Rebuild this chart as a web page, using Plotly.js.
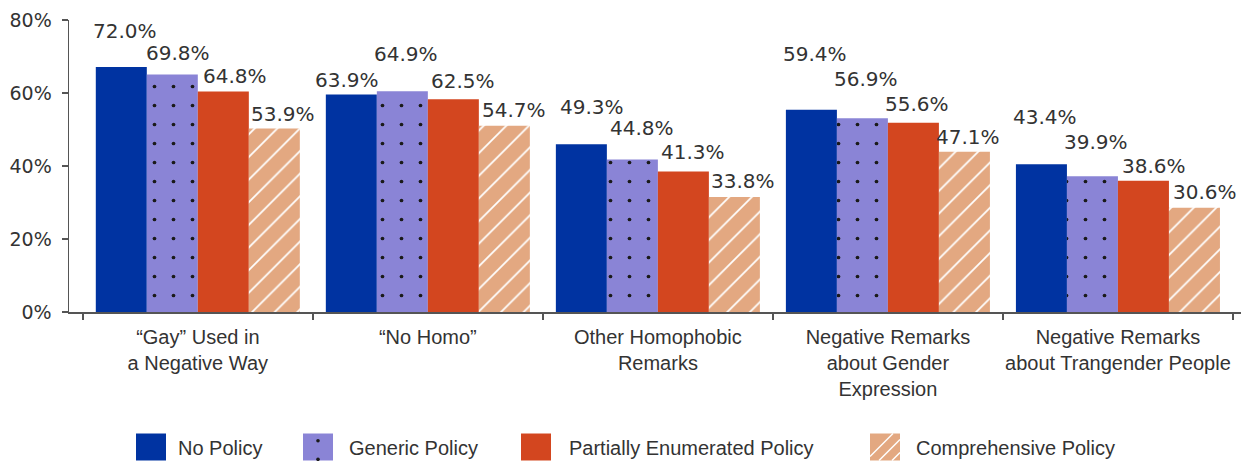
<!DOCTYPE html>
<html><head><meta charset="utf-8">
<script src="https://cdn.plot.ly/plotly-3.0.1.min.js"></script>
<style>html,body{margin:0;padding:0;background:#fff}#chart{width:1244px;height:461px}</style>
</head><body><div id="chart"></div>
<script>
// ---- data ----
const categories = ['“Gay” Used in<br>a Negative Way', '“No Homo”', 'Other Homophobic<br>Remarks', 'Negative Remarks<br>about Gender<br>Expression', 'Negative Remarks<br>about Trangender People'];
const seriesNames = ['No Policy', 'Generic Policy', 'Partially Enumerated Policy', 'Comprehensive Policy'];
const noPolicy = [72.0, 63.9, 49.3, 59.4, 43.4];
const genericPolicy = [69.8, 64.9, 44.8, 56.9, 39.9];
const partialPolicy = [64.8, 62.5, 41.3, 55.6, 38.6];
const comprehensivePolicy = [53.9, 54.7, 33.8, 47.1, 30.6];
const yTickLabels = ['0%', '20%', '40%', '60%', '80%'];

// ---- styling / layout ----
const seriesValues = [noPolicy, genericPolicy, partialPolicy, comprehensivePolicy];
const colors = ['#0033a1', '#8a84d6', '#d3461f', '#e3a881'];
const patterns = [
  null,
  {shape: '.', bgcolor: '#8a84d6', fgcolor: '#1a1a1a', size: 19, solidity: 0.03},
  null,
  {shape: '/', bgcolor: '#e3a881', fgcolor: '#ffffff', size: 16, solidity: 0.11}
];
const W = 1244, H = 461;
const M = {l: 69, r: 3, t: 20, b: 149};
const plotW = W - M.l - M.r, plotH = H - M.t - M.b;
const yAxisMax = 85.8;          // axis scale used by the reference
const bargap = 0.113;
const textColor = '#333333';
const numFont = 'DejaVu Sans';
const txtFont = 'Liberation Sans, Arial, sans-serif';

// label staggering (pixels above bar top, and horizontal nudge), per series then category
const labelLift = [
  [36, 15, 37, 56, 47],
  [21, 37, 32, 39, 34],
  [15, 18, 19, 19, 15],
  [15, 16, 16, 15, 16]
];
const labelNudge = [
  [4, -4, 11, 4, 4],
  [6, 4, 10, 4, 4],
  [12, 10, 10, 4, 11],
  [9, 10, 9, 4, 11]
];

const traces = seriesValues.map((vals, si) => {
  const marker = {color: colors[si], line: {width: 0}};
  if (patterns[si]) marker.pattern = Object.assign({fillmode: 'replace'}, patterns[si]);
  return {type: 'bar', name: seriesNames[si], x: categories, y: vals, marker: marker,
          showlegend: false, hoverinfo: 'skip'};
});

const barUnit = (1 - bargap) / seriesValues.length;
const annotations = [];
seriesValues.forEach((vals, si) => {
  vals.forEach((v, ci) => {
    annotations.push({
      xref: 'x', yref: 'y', x: ci + (si - (seriesValues.length - 1) / 2) * barUnit, y: v,
      text: v.toFixed(1) + '%', showarrow: false, yanchor: 'middle', xanchor: 'center',
      yshift: labelLift[si][ci], xshift: labelNudge[si][ci],
      font: {family: numFont, size: 20, color: textColor}
    });
  });
});

// ---- custom legend (large swatches) ----
const px2x = px => (px - M.l) / plotW;
const py2y = py => (H - M.b - py) / plotH;
const legendSwatchX = [136, 303, 521, 870];
const legendTextX = [176, 347, 567, 914];
const swW = 30, swTop = 433.5, swBot = 460.5, legendMidY = 448;
const shapes = [];
seriesNames.forEach((name, si) => {
  const x0 = legendSwatchX[si], x1 = x0 + swW;
  shapes.push({type: 'rect', xref: 'paper', yref: 'paper', x0: px2x(x0), x1: px2x(x1),
    y0: py2y(swBot), y1: py2y(swTop), fillcolor: colors[si], line: {width: 0}});
  if (patterns[si] && patterns[si].shape === '.') {
    const cx = (x0 + x1) / 2;
    [440.7, 459.3].forEach(cy => {
      const r = 1.8;
      shapes.push({type: 'circle', xref: 'paper', yref: 'paper', x0: px2x(cx - r), x1: px2x(cx + r),
        y0: py2y(cy + r), y1: py2y(cy - r), fillcolor: '#1a1a1a', line: {width: 0}});
    });
  }
  if (patterns[si] && patterns[si].shape === '/') {
    [866, 879, 892, 905].forEach(xb => {
      const k = xb + swBot;
      const xs = Math.max(x0, k - swBot), xe = Math.min(x1, k - swTop);
      if (xe > xs) shapes.push({type: 'line', xref: 'paper', yref: 'paper',
        x0: px2x(xs), y0: py2y(k - xs), x1: px2x(xe), y1: py2y(k - xe),
        line: {color: '#ffffff', width: 1.5}});
    });
  }
  annotations.push({xref: 'paper', yref: 'paper', x: px2x(legendTextX[si]), y: py2y(legendMidY),
    xanchor: 'left', yanchor: 'middle', showarrow: false, text: name,
    font: {family: txtFont, size: 20, color: textColor}});
});

const layout = {
  width: W, height: H, margin: M, paper_bgcolor: '#fff', plot_bgcolor: '#fff',
  barmode: 'group', bargap: bargap, bargroupgap: 0, showlegend: false,
  xaxis: {type: 'category', range: [-0.56, 4.535], showgrid: false, zeroline: false,
    showline: true, linecolor: '#555', linewidth: 1.5, ticks: 'outside', tickson: 'boundaries',
    ticklen: 6, tickcolor: '#555', tickwidth: 1.5, tickangle: 0, automargin: false,
    ticklabelstandoff: 6,
    tickfont: {family: txtFont, size: 20, color: textColor}},
  yaxis: {range: [0, yAxisMax], tickmode: 'array',
    tickvals: yTickLabels.map((t, i) => i * yAxisMax / (yTickLabels.length - 1)), ticktext: yTickLabels,
    showgrid: false, zeroline: false, showline: true, linecolor: '#555', linewidth: 1.5,
    ticks: 'outside', ticklen: 6, tickcolor: '#555', tickwidth: 1.5, ticklabelstandoff: 6,
    tickfont: {family: numFont, size: 19, color: textColor}},
  annotations: annotations, shapes: shapes
};
Plotly.newPlot('chart', traces, layout, {displayModeBar: false, staticPlot: true});
</script></body></html>
